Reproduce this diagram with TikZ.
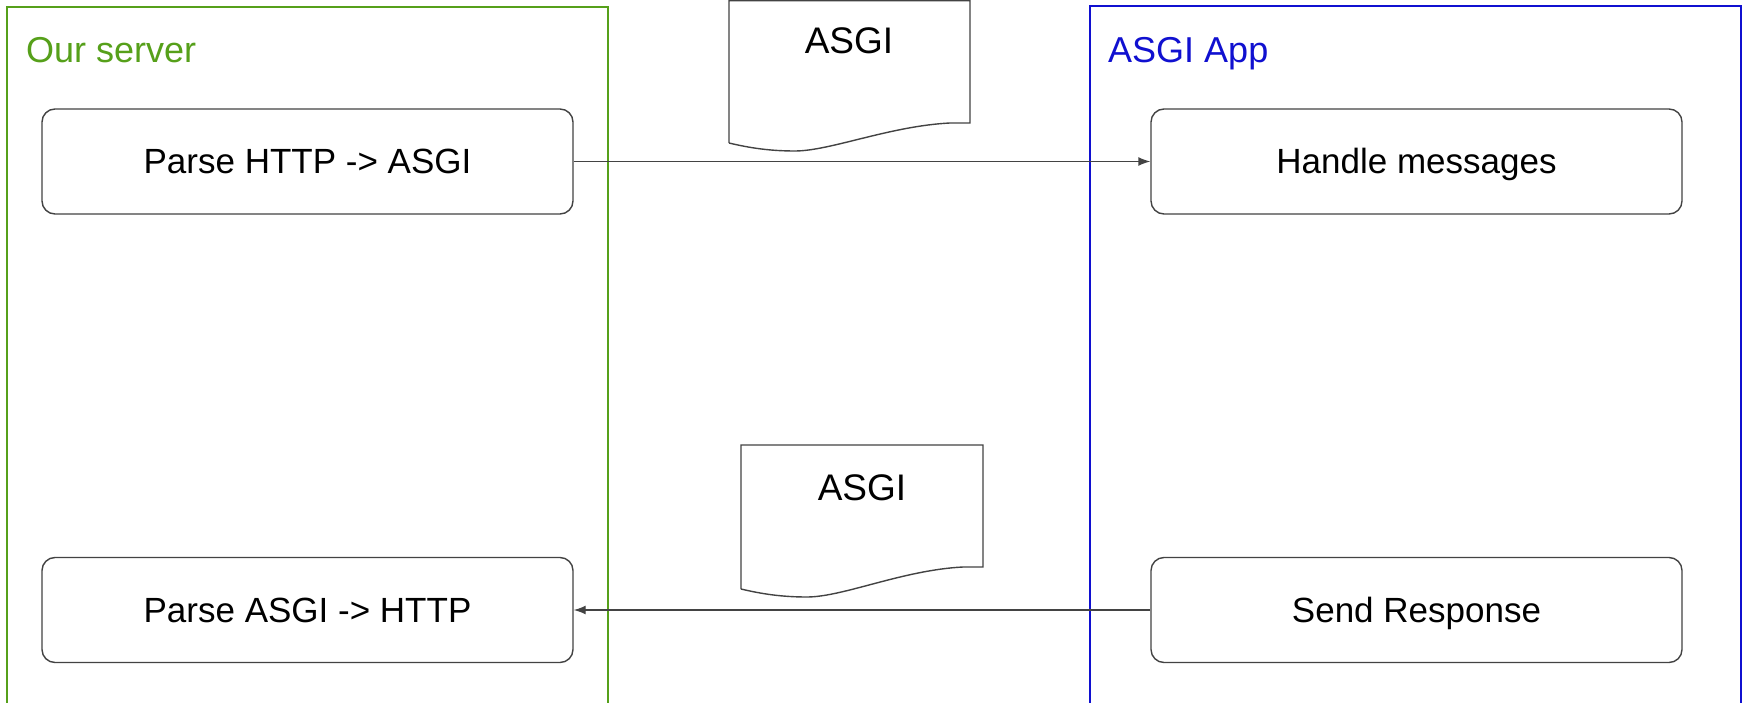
\documentclass[tikz,border=0pt]{standalone}
\usepackage{fontspec}
\setmainfont{Liberation Sans}
\usetikzlibrary{arrows.meta}
\definecolor{srvgreen}{RGB}{86,160,26}
\definecolor{appblue}{RGB}{16,16,208}
\definecolor{edgegray}{RGB}{67,67,67}
\tikzset{
  stepbox/.style={draw=edgegray, line width=1.4pt, rounded corners=13pt, fill=white,
    minimum width=531pt, minimum height=105pt, inner sep=0pt,
    text height=25pt, text depth=0pt, font=\fontsize{35}{42}\selectfont},
  frame/.style={line width=1.5pt},
  framelabel/.style={anchor=base west, inner sep=0pt, font=\fontsize{36}{43}\selectfont},
  docshape/.style={draw=edgegray, line width=1.4pt, fill=white},
  doclabel/.style={anchor=base, inner sep=0pt, font=\fontsize{37}{44}\selectfont},
  flow/.style={draw=edgegray, line width=1.4pt, -{Latex[length=12pt,width=9pt]}}
}
\begin{document}
\begin{tikzpicture}[x=1pt,y=-1pt]
\useasboundingbox (0,0) rectangle (1750,703);
\fill[white] (0,0) rectangle (1750,703);
% frames
\draw[frame, draw=srvgreen] (7,720) -- (7,7) -- (608,7) -- (608,720);
\draw[frame, draw=appblue] (1090,720) -- (1090,6) -- (1741,6) -- (1741,720);
\node[framelabel, text=srvgreen] (srvlabel) at (26,63) {Our server};
\node[framelabel, text=appblue] (applabel) at (1108,63) {ASGI App};
% documents
\draw[docshape] (729,143) -- (729,0.8) -- (970,0.8) -- (970,123) -- (950,123)
  .. controls (890,126) and (830,151) .. (795,151)
  .. controls (770,151) and (750,148) .. (729,143);
\node[doclabel] (doc1) at (849,54) {ASGI};
\draw[docshape] (741,589) -- (741,445) -- (983,445) -- (983,567) -- (963,567)
  .. controls (903,570) and (843,597) .. (807,597)
  .. controls (782,597) and (762,594) .. (741,589);
\node[doclabel] (doc2) at (862,500) {ASGI};
% boxes
\node[stepbox] (parsehttp) at (307.5,161.5) {Parse HTTP -> ASGI};
\node[stepbox] (handle) at (1416.5,161.5) {Handle messages};
\node[stepbox] (parseasgi) at (307.5,610) {Parse ASGI -> HTTP};
\node[stepbox] (send) at (1416.5,610) {Send Response};
% arrows
\draw[flow] (parsehttp.east) -- (handle.west);
\draw[flow] (send.west) -- (parseasgi.east);
\end{tikzpicture}
\end{document}
